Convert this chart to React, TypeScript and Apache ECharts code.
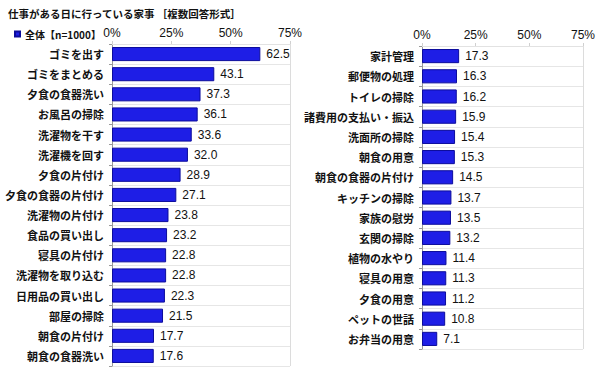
import React, { useEffect, useRef } from "react";
import * as echarts from "echarts";

const leftCategories = [
  "ゴミを出す", "ゴミをまとめる", "夕食の食器洗い", "お風呂の掃除", "洗濯物を干す",
  "洗濯機を回す", "夕食の片付け", "夕食の食器の片付け", "洗濯物の片付け", "食品の買い出し",
  "寝具の片付け", "洗濯物を取り込む", "日用品の買い出し", "部屋の掃除", "朝食の片付け", "朝食の食器洗い",
];
const leftValues = [62.5, 43.1, 37.3, 36.1, 33.6, 32.0, 28.9, 27.1, 23.8, 23.2, 22.8, 22.8, 22.3, 21.5, 17.7, 17.6];

const rightCategories = [
  "家計管理", "郵便物の処理", "トイレの掃除", "諸費用の支払い・振込", "洗面所の掃除",
  "朝食の用意", "朝食の食器の片付け", "キッチンの掃除", "家族の慰労", "玄関の掃除",
  "植物の水やり", "寝具の用意", "夕食の用意", "ペットの世話", "お弁当の用意",
];
const rightValues = [17.3, 16.3, 16.2, 15.9, 15.4, 15.3, 14.5, 13.7, 13.5, 13.2, 11.4, 11.3, 11.2, 10.8, 7.1];

const FONT = '"Noto Sans CJK JP", "Noto Sans", sans-serif';
const NUM_FONT = '"Liberation Sans", Arial, sans-serif';
const BAR = "#1e1ee6";

function xAxis(gridIndex: number) {
  return {
    type: "value",
    gridIndex,
    position: "top",
    min: 0,
    max: 75,
    interval: 25,
    axisLine: { show: true, lineStyle: { color: "#e2e2e2" } },
    axisTick: { show: true, length: 3, lineStyle: { color: "#d0d0d0" } },
    axisLabel: {
      formatter: "{value}%",
      fontFamily: NUM_FONT,
      fontSize: 12,
      color: "#111",
      margin: 5,
    },
    splitLine: {
      show: true,
      lineStyle: { color: ["transparent", "transparent", "transparent", "#dcdcdc"] },
    },
  };
}

function yAxis(gridIndex: number, data: string[]) {
  return {
    type: "category",
    gridIndex,
    inverse: true,
    data,
    axisLine: { show: true, lineStyle: { color: "#999" } },
    axisTick: { show: true, length: 3, lineStyle: { color: "#999" } },
    axisLabel: {
      fontFamily: FONT,
      fontSize: 11,
      fontWeight: "bold",
      color: "#111",
      margin: 8,
    },
    splitLine: { show: true, interval: 0, lineStyle: { color: "#e6e6e6" } },
  };
}

function barSeries(idx: number, data: number[]) {
  return {
    type: "bar",
    name: "全体【n=1000】",
    xAxisIndex: idx,
    yAxisIndex: idx,
    data,
    barCategoryGap: "30%",
    itemStyle: { color: BAR, borderColor: "#0c0c9c", borderWidth: 1 },
    label: {
      show: true,
      position: "right",
      distance: 6,
      formatter: (p: any) => p.value.toFixed(1),
      fontFamily: NUM_FONT,
      fontSize: 12,
      color: "#111",
    },
  };
}

export default function App() {
  const ref = useRef<HTMLDivElement>(null);
  useEffect(() => {
    if (!ref.current) return;
    const chart = echarts.init(ref.current, null, { renderer: "svg" });
    chart.setOption({
      animation: false,
      backgroundColor: "#fff",
      textStyle: { fontFamily: FONT },
      title: {
        text: "仕事がある日に行っている家事 ［複数回答形式］",
        left: 3,
        top: 3,
        textStyle: { fontFamily: FONT, fontSize: 10.5, fontWeight: "bold", color: "#111" },
      },
      legend: {
        show: true,
        left: 9,
        top: 24,
        itemWidth: 5,
        itemHeight: 5,
        itemGap: 3,
        icon: "rect",
        data: [{ name: "全体【n=1000】" }],
        textStyle: { fontFamily: FONT, fontSize: 10, fontWeight: "bold", color: "#111" },
      },
      grid: [
        { left: 112, right: 310, top: 44, height: 322 },
        { left: 422, right: 17, top: 46, height: 303 },
      ],
      xAxis: [xAxis(0), xAxis(1)],
      yAxis: [yAxis(0, leftCategories), yAxis(1, rightCategories)],
      series: [barSeries(0, leftValues), barSeries(1, rightValues)],
    });
    return () => chart.dispose();
  }, []);
  return <div ref={ref} style={{ width: 600, height: 375, position: "absolute", left: 0, top: 0 }} />;
}
